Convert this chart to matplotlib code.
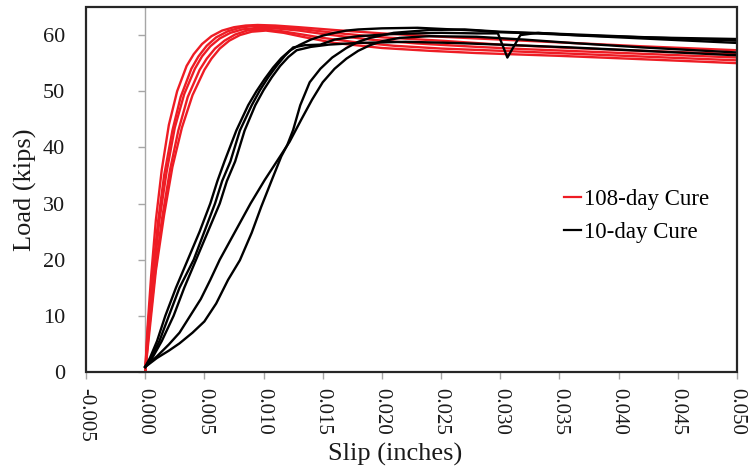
import matplotlib
matplotlib.use("Agg")
import matplotlib.pyplot as plt
from matplotlib.patches import Rectangle

plt.rcParams['font.family'] = ['Liberation Serif', 'DejaVu Serif']

# ---------------- data ----------------
x_ticks = [-0.005, 0.000, 0.005, 0.010, 0.015, 0.020, 0.025, 0.030, 0.035, 0.040, 0.045, 0.050]
x_tick_labels = ["-0.005", "0.000", "0.005", "0.010", "0.015", "0.020", "0.025", "0.030",
                 "0.035", "0.040", "0.045", "0.050"]
y_ticks = [0, 10, 20, 30, 40, 50, 60]

# 108-day cure specimens (red)
red_1_slip = [0, 0.0002, 0.0005, 0.0009, 0.0014, 0.0020, 0.0027, 0.0035, 0.0041, 0.0048, 0.0056,
              0.0065, 0.0075, 0.0085, 0.0095, 0.0110, 0.0130, 0.0160, 0.0200, 0.0250, 0.0300,
              0.0360, 0.0420, 0.0500]
red_1_load = [0, 8, 17, 27, 36, 44, 50, 54.5, 56.6, 58.4, 59.8, 60.8, 61.4, 61.7, 61.8, 61.7,
              61.4, 60.9, 60.3, 59.7, 59.2, 58.6, 58.0, 57.3]
red_2_slip = [0, 0.0002, 0.0006, 0.0011, 0.0016, 0.0023, 0.0030, 0.0039, 0.0045, 0.0052, 0.0060,
              0.0070, 0.0080, 0.0090, 0.0100, 0.0115, 0.0135, 0.0160, 0.0200, 0.0250, 0.0300,
              0.0360, 0.0420, 0.0500]
red_2_load = [0, 7, 17, 27, 35, 43, 49, 54, 56.2, 58.1, 59.6, 60.7, 61.3, 61.6, 61.6, 61.4,
              61.0, 60.4, 59.6, 59.0, 58.3, 57.7, 57.2, 56.6]
red_3_slip = [0, 0.0003, 0.0007, 0.0012, 0.0018, 0.0025, 0.0033, 0.0042, 0.0048, 0.0055, 0.0063,
              0.0072, 0.0082, 0.0095, 0.0110, 0.0130, 0.0150, 0.0190, 0.0230, 0.0280, 0.0320,
              0.0380, 0.0500]
red_3_load = [0, 8, 17, 27, 35.5, 43.5, 49.5, 54, 56.2, 58.0, 59.4, 60.4, 61.0, 61.3, 61.2,
              60.8, 60.2, 59.2, 58.5, 57.9, 57.5, 57.0, 56.0]
red_4_slip = [0, 0.0003, 0.0008, 0.0014, 0.0021, 0.0028, 0.0036, 0.0046, 0.0052, 0.0059, 0.0067,
              0.0076, 0.0086, 0.0098, 0.0112, 0.0130, 0.0150, 0.0175, 0.0210, 0.0250, 0.0300,
              0.0370, 0.0500]
red_4_load = [0, 7, 17, 27, 36, 43, 49, 53.8, 55.8, 57.6, 59.0, 60.1, 60.8, 61.0, 60.8, 60.2,
              59.5, 58.8, 58.1, 57.6, 57.2, 56.6, 55.5]
red_5_slip = [0, 0.0004, 0.0009, 0.0016, 0.0023, 0.0031, 0.0040, 0.0050, 0.0056, 0.0063, 0.0071,
              0.0080, 0.0090, 0.0102, 0.0117, 0.0135, 0.0160, 0.0200, 0.0240, 0.0280, 0.0350,
              0.0420, 0.0500]
red_5_load = [0, 8, 18, 28, 36.5, 43.5, 49.3, 53.8, 55.8, 57.6, 59.0, 60.0, 60.6, 60.8, 60.4,
              59.6, 58.6, 57.7, 57.2, 56.8, 56.3, 55.7, 55.0]

# 10-day cure specimens (black)
black_1_slip = [0, 0.0004, 0.0010, 0.0017, 0.0026, 0.0036, 0.0046, 0.0055, 0.0061, 0.0067, 0.0077,
                0.0087, 0.0094, 0.0101, 0.0108, 0.0115, 0.0122, 0.0130, 0.0140, 0.0150, 0.0160,
                0.0170, 0.0180, 0.0200, 0.0230, 0.0260, 0.0280, 0.0300, 0.0330, 0.0360, 0.0420,
                0.0500]
black_1_load = [0.9, 2.5, 5.5, 10, 15, 20, 25, 30, 34, 37.5, 43, 47.5, 50.0, 52.2, 54.2, 55.9,
                57.2, 58.2, 59.2, 59.9, 60.4, 60.8, 61.0, 61.2, 61.3, 61.0, 60.8, 60.5, 60.3,
                60.0, 59.6, 59.3]
black_2_slip = [0, 0.0005, 0.0012, 0.0020, 0.0029, 0.0041, 0.0050, 0.0059, 0.0065, 0.0072, 0.0080,
                0.0090, 0.0097, 0.0104, 0.0111, 0.0118, 0.0125, 0.0135, 0.0148, 0.0160, 0.0180,
                0.0210, 0.0250, 0.0280, 0.0298, 0.0306, 0.0317, 0.0332, 0.0370, 0.0420, 0.0500]
black_2_load = [0.9, 2.5, 5.5, 10, 15, 20, 25, 30, 34, 37.5, 43, 47.5, 50.2, 52.5, 54.5, 56.3,
                57.8, 58.2, 58.3, 59.2, 59.8, 60.2, 60.4, 60.3, 60.3, 56.0, 60.0, 60.4, 59.9,
                59.4, 58.6]
black_3_slip = [0, 0.0006, 0.0014, 0.0024, 0.0033, 0.0043, 0.0053, 0.0063, 0.0069, 0.0076, 0.0084,
                0.0093, 0.0100, 0.0107, 0.0114, 0.0121, 0.0128, 0.0140, 0.0155, 0.0180, 0.0220,
                0.0260, 0.0300, 0.0360, 0.0420, 0.0500]
black_3_load = [0.9, 2.5, 5.5, 10, 15, 20, 25, 30, 34, 37.5, 43, 47.5, 50.2, 52.5, 54.5, 56.1,
                57.3, 57.9, 58.3, 58.6, 58.8, 58.6, 58.3, 57.8, 57.2, 56.4]
black_4_slip = [0, 0.0010, 0.0020, 0.0029, 0.0038, 0.0047, 0.0055, 0.0063, 0.0076, 0.0089, 0.0101,
                0.0114, 0.0122, 0.0132, 0.0141, 0.0150, 0.0160, 0.0170, 0.0180, 0.0190, 0.0200,
                0.0215, 0.0240, 0.0280, 0.0320, 0.0360, 0.0420, 0.0500]
black_4_load = [0.9, 2.8, 4.9, 7.0, 10, 13, 16.4, 20, 25, 30, 34.2, 38.4, 41, 45, 48.5, 51.6,
                54.0, 55.8, 57.2, 58.2, 58.9, 59.5, 59.8, 59.7, 59.2, 58.6, 57.8, 56.9]
black_5_slip = [0, 0.0010, 0.0020, 0.0029, 0.0040, 0.0050, 0.0060, 0.0070, 0.0080, 0.0090, 0.0098,
                0.0107, 0.0115, 0.0120, 0.0125, 0.0131, 0.0139, 0.0148, 0.0158, 0.0170, 0.0180,
                0.0190, 0.0210, 0.0240, 0.0270, 0.0300, 0.0340, 0.0400, 0.0500]
black_5_load = [0.9, 2.5, 3.8, 5.1, 7.0, 9.0, 12.2, 16.4, 19.9, 24.8, 29.4, 34.2, 38.4, 40.4,
                43.1, 47.5, 51.6, 54.0, 56.0, 57.7, 58.8, 59.5, 60.4, 60.9, 61.0, 60.6, 60.3,
                59.8, 59.0]

red_series = [(red_1_slip, red_1_load), (red_2_slip, red_2_load), (red_3_slip, red_3_load),
              (red_4_slip, red_4_load), (red_5_slip, red_5_load)]
black_series = [(black_1_slip, black_1_load), (black_2_slip, black_2_load),
                (black_3_slip, black_3_load), (black_4_slip, black_4_load),
                (black_5_slip, black_5_load)]

RED = '#ee1c24'
BLACK = '#000000'
GRAY = '#a6a6a6'
TEXT = '#1a1a1a'

# ---------------- figure ----------------
fig = plt.figure(figsize=(7.48, 4.70), dpi=100)
ax = fig.add_axes([86 / 748, 1 - 372 / 470, (737 - 86) / 748, (372 - 7) / 470])

for i, (s, l) in enumerate(red_series):
    ax.plot(s, l, color=RED, lw=1.7, solid_joinstyle='round',
            label='108-day Cure' if i == 0 else None, zorder=3)
for i, (s, l) in enumerate(black_series):
    ax.plot(s, l, color=BLACK, lw=1.7, solid_joinstyle='round',
            label='10-day Cure' if i == 0 else None, zorder=4)

ax.set_xlim(-0.005, 0.050)
ax.set_ylim(0, 65)

# gray vertical axis at slip = 0
for side in ['top', 'right', 'bottom']:
    ax.spines[side].set_visible(False)
ax.spines['left'].set_position(('data', 0))
ax.spines['left'].set_color(GRAY)
ax.spines['left'].set_linewidth(1.0)
ax.spines['left'].set_zorder(1)

# black frame around the plot area
ax.add_patch(Rectangle((0, 0), 1, 1, transform=ax.transAxes, fill=False,
                       edgecolor='#262626', linewidth=1.6, clip_on=False, zorder=10))

ax.set_xticks(x_ticks)
ax.set_xticklabels(x_tick_labels, rotation=-90, fontsize=15)
ax.set_yticks(y_ticks)
ax.set_yticklabels([str(v) for v in y_ticks], fontsize=16)
ax.tick_params(axis='x', direction='out', length=5, width=1, color=GRAY, pad=6.5,
               labelcolor=TEXT)
ax.tick_params(axis='y', direction='out', length=5, width=1, color=GRAY, pad=52.5,
               labelcolor=TEXT)

ax.set_xlabel('Slip (inches)', fontsize=19, color=TEXT)
ax.set_ylabel('Load (kips)', fontsize=19, color=TEXT)
ax.xaxis.set_label_coords(0.475, -0.193)
ax.yaxis.set_label_coords(-0.076, 0.5)

leg = ax.legend(loc='center left', bbox_to_anchor=(0.735, 0.427), frameon=False,
                fontsize=16.5, handlelength=0.7, handletextpad=0.15, labelspacing=0.5,
                borderpad=0, borderaxespad=0)
for h in leg.get_lines():
    h.set_linewidth(1.6)

fig.savefig('out.png', dpi=100)
